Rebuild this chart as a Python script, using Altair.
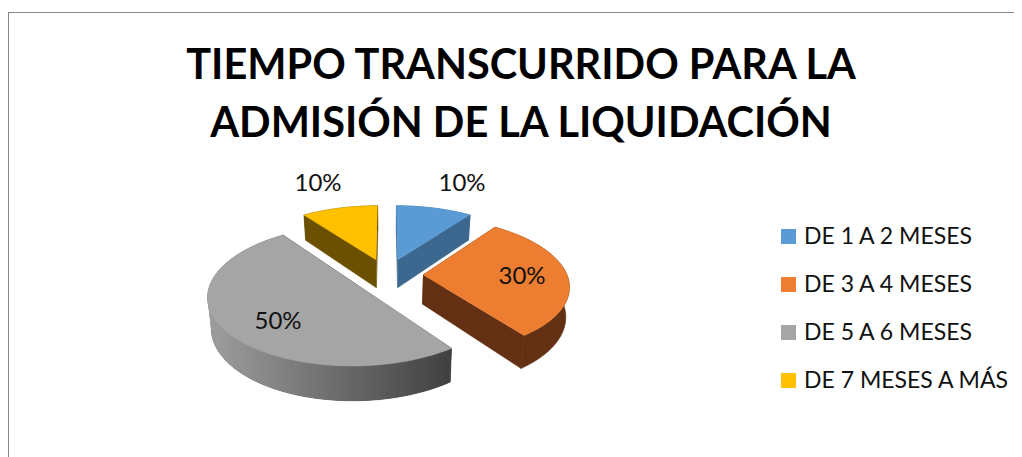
import math
import altair as alt
import pandas as pd

categories = ["DE 1 A 2 MESES", "DE 3 A 4 MESES", "DE 5 A 6 MESES", "DE 7 MESES A MÁS"]
values = [10, 30, 50, 10]
colors = ["#5b9bd5", "#ed7d31", "#a5a5a5", "#ffc000"]
wall_colors = ["#3c6890", "#633013", "#555555", "#6a5000"]
label_x = [462, 522, 278, 318]
label_y = [184, 277, 322, 184]

CX, CY, R, RY, K, EXPLODE, DEPTH, SHRINK = 387, 275, 144, 66, 0.146, 0.25, 29, 0.98


def project(u, v, lower=False):
    s = 1 / (1 + K * v)
    x = CX + R * u * s
    y = CY - RY * v * s
    if lower:
        x = CX + (x - CX) * SHRINK
        y = y + DEPTH * s
    return x, y


def mix(t):
    a, b = 0x9e, 0x41
    g = round(a + (b - a) * min(max(t, 0), 1))
    return f"#{g:02x}{g:02x}{g:02x}"


rows = []
poly = [0]


def add(points, fill, sw=0.6):
    poly[0] += 1
    for i, (x, y) in enumerate(points):
        rows.append({"id": f"p{poly[0]:04d}", "ord": i, "x": x, "y": y, "fill": fill, "sw": sw})


total = sum(values)
start = 0.0
slices = []
for val, col, wall in zip(values, colors, wall_colors):
    sweep = 2 * math.pi * val / total
    slices.append((start, sweep, col, wall))
    start += sweep

for a0, sweep, col, wall in [slices[3], slices[0], slices[1], slices[2]]:
    mid = a0 + sweep / 2
    ox, oy = EXPLODE * math.sin(mid), EXPLODE * math.cos(mid)
    n = max(4, int(sweep * 40))
    rim = [(ox + math.sin(a0 + sweep * i / n), oy + math.cos(a0 + sweep * i / n)) for i in range(n + 1)]
    for p in (rim[0], rim[-1]):
        add([project(ox, oy), project(*p), project(*p, lower=True), project(ox, oy, lower=True)], wall)
    add([project(*p) for p in rim] + [project(*p, lower=True) for p in reversed(rim)], wall)
    if col == "#a5a5a5":
        # clockwise from the right end: each strip overlaps the next one, unstroked
        for i in range(n):
            p, q = rim[i], rim[min(i + 2, n)]
            xm = project(*rim[i])[0]
            add([project(*p), project(*q), project(*q, lower=True), project(*p, lower=True)],
                mix((xm - 208) / (452 - 208)), 0)
    add([project(ox, oy)] + [project(*p) for p in rim], col)

polys = pd.DataFrame(rows)
labels = pd.DataFrame({
    "cat": categories,
    "pct": [f"{v}%" for v in values],
    "x": label_x,
    "y": label_y,
})

W, H = 1006, 449
xs = alt.X("x:Q", scale=alt.Scale(domain=[8, 8 + W], range=[0, W]), axis=None)
ys = alt.Y("y:Q", scale=alt.Scale(domain=[8, 8 + H], range=[0, H]), axis=None)

faces = alt.Chart(polys).mark_line(interpolate="linear").encode(
    x=xs, y=ys,
    detail="id:N",
    order="ord:Q",
    fill=alt.Fill("fill:N", scale=None),
    stroke=alt.Stroke("fill:N", scale=None),
    strokeWidth=alt.StrokeWidth("sw:Q", scale=None),
)

legend_layer = alt.Chart(labels).mark_square(size=0, opacity=1).encode(
    x=xs, y=ys,
    color=alt.Color(
        "cat:N",
        sort=categories,
        scale=alt.Scale(domain=categories, range=colors),
        legend=alt.Legend(
            title=None,
            orient="none",
            legendX=769,
            legendY=217,
            symbolType="square",
            symbolSize=225,
            symbolStrokeWidth=0,
            symbolOpacity=1,
            labelFont="Lato",
            labelFontSize=23,
            labelColor="#111111",
            labelOffset=4,
            labelLimit=300,
            rowPadding=24,
        ),
    ),
)

text = alt.Chart(labels).mark_text(font="Lato", fontSize=24, color="#111111").encode(
    x=xs, y=ys, text="pct:N"
)

top = alt.Chart(labels).mark_rule(color="#868686", strokeWidth=1).encode(
    x=alt.value(0), x2=alt.value(W), y=alt.value(4.5)
)
left = alt.Chart(labels).mark_rule(color="#868686", strokeWidth=1).encode(
    x=alt.value(0.5), y=alt.value(4.5), y2=alt.value(H)
)

chart = alt.layer(top, left, faces, legend_layer, text).properties(
    width=W,
    height=H,
    padding=0,
    autosize=alt.AutoSizeParams(type="none"),
    title=alt.Title(
        text=["TIEMPO TRANSCURRIDO PARA LA", "ADMISIÓN DE LA LIQUIDACIÓN"],
        font="Lato",
        fontSize=41.5,
        fontWeight="bold",
        color="#000000",
        anchor="middle",
        baseline="alphabetic",
        lineHeight=58,
        offset=0,
        dx=10,
        dy=170,
    ),
).configure_view(stroke=None)

chart.save("out.html", embed_options={"renderer": "svg", "actions": False})
